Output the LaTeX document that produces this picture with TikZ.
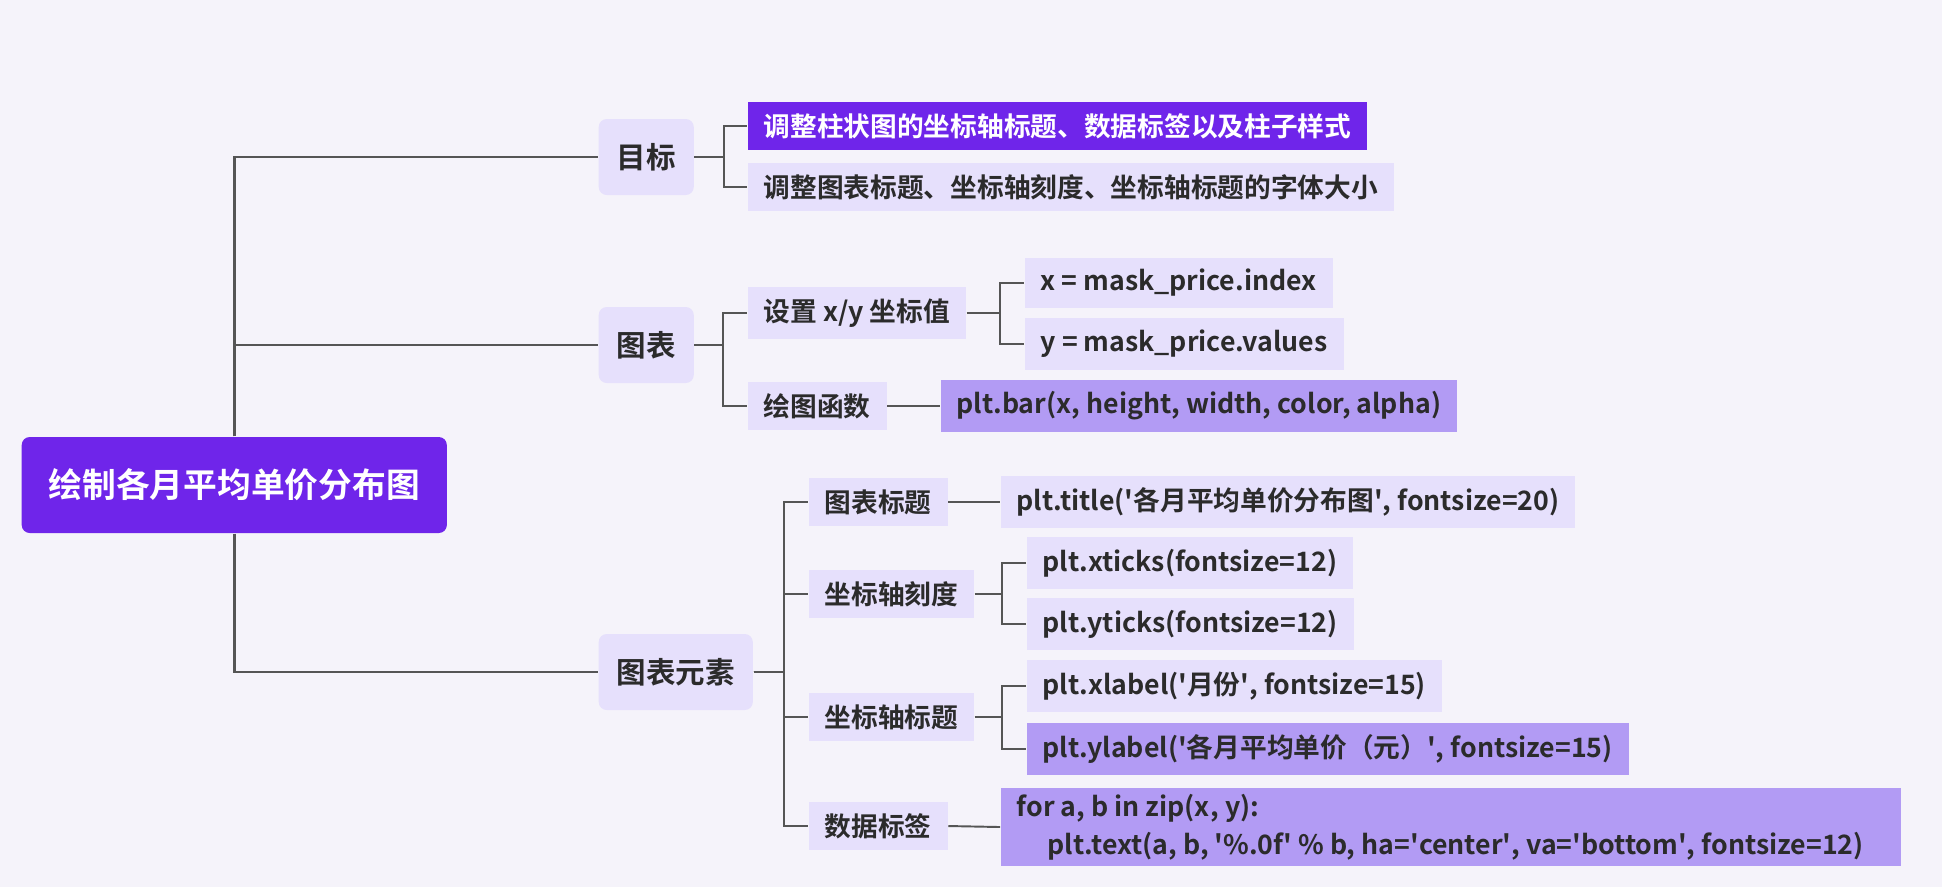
\documentclass[tikz,border=0pt]{standalone}
\usepackage{fontspec}
\setmainfont{Noto Sans CJK SC}[BoldFont={Noto Sans CJK SC Bold}]
\usepackage{xcolor}
\usetikzlibrary{positioning, calc}

\definecolor{bgcol}{HTML}{F5F3FA}
\definecolor{rootcol}{HTML}{6F25EA}
\definecolor{softcol}{HTML}{E6E0FC}
\definecolor{midcol}{HTML}{B29BF4}
\definecolor{linecol}{HTML}{555555}
\definecolor{txtcol}{HTML}{2B2B2B}
\newcommand{\sq}{\textquotesingle}

\begin{document}
\begin{tikzpicture}[x=0.1mm, y=-0.1mm,
    rootbox/.style={fill=rootcol, text=white, rounded corners=0.8mm, anchor=west,
        minimum height=9.6mm, inner xsep=2.7mm, font=\bfseries\fontsize{9.6}{11}\selectfont},
    topic/.style={fill=softcol, text=txtcol, rounded corners=0.8mm, anchor=west,
        minimum height=7.6mm, inner xsep=1.8mm, font=\bfseries\fontsize{8.4}{10}\selectfont},
    leaf/.style={fill=softcol, text=txtcol, anchor=west,
        minimum height=4.6mm, inner xsep=1.6mm, font=\bfseries\fontsize{7.6}{10.8}\selectfont},
    hot/.style={leaf, fill=rootcol, text=white},
    code/.style={leaf, fill=midcol},
    trunk/.style={draw=linecol, line width=0.75pt},
    link/.style={draw=linecol, line width=0.55pt}]

    % Background
    \fill[bgcol] (0,0) rectangle (1942,887);

    % Root and main branches
    \node[rootbox] (root) at (21,485) {绘制各月平均单价分布图};
    \node[topic] (goal) at (598,157) {目标};
    \node[topic] (chart) at (598,345) {图表};
    \node[topic] (elems) at (598,672) {图表元素};

    \draw[trunk] (root.north) |- (goal.west);
    \draw[trunk] (root.north) |- (chart.west);
    \draw[trunk] (root.south) |- (elems.west);

    % Goal
    \node[hot] (adjbar) at (747,126) {调整柱状图的坐标轴标题、数据标签以及柱子样式};
    \node[leaf] (adjfont) at (747,187) {调整图表标题、坐标轴刻度、坐标轴标题的字体大小};
    \foreach \c in {adjbar, adjfont}
        \draw[link] (goal.east) -| ($(\c.west)+(-23,0)$) -- (\c.west);

    % Chart
    \node[leaf] (setxy) at (747,313) {设置 x/y 坐标值};
    \node[leaf] (plotfn) at (747,406) {绘图函数};
    \foreach \c in {setxy, plotfn}
        \draw[link] (chart.east) -| ($(\c.west)+(-24,0)$) -- (\c.west);

    \node[leaf] (xval) at (1024,283) {x = mask\_price.index};
    \node[leaf] (yval) at (1024,344) {y = mask\_price.values};
    \foreach \c in {xval, yval}
        \draw[link] (setxy.east) -| ($(\c.west)+(-24,0)$) -- (\c.west);

    \node[code] (barfn) at (940,406) {plt.bar(x, height, width, color, alpha)};
    \draw[link] (plotfn.east) -- (barfn.west);

    % Chart elements
    \node[leaf] (ctitle) at (808,502) {图表标题};
    \node[leaf] (cticks) at (808,594) {坐标轴刻度};
    \node[leaf] (clabels) at (808,717) {坐标轴标题};
    \node[leaf] (cdata) at (808,826) {数据标签};
    \foreach \c in {ctitle, cticks, clabels, cdata}
        \draw[link] (elems.east) -| ($(\c.west)+(-24,0)$) -- (\c.west);

    \node[leaf] (titlefn) at (1000,502) {plt.title(\sq{}各月平均单价分布图\sq{}, fontsize=20)};
    \draw[link] (ctitle.east) -- (titlefn.west);

    \node[leaf] (xtfn) at (1026,563) {plt.xticks(fontsize=12)};
    \node[leaf] (ytfn) at (1026,624) {plt.yticks(fontsize=12)};
    \foreach \c in {xtfn, ytfn}
        \draw[link] (cticks.east) -| ($(\c.west)+(-24,0)$) -- (\c.west);

    \node[leaf] (xlfn) at (1026,686) {plt.xlabel(\sq{}月份\sq{}, fontsize=15)};
    \node[code] (ylfn) at (1026,749) {plt.ylabel(\sq{}各月平均单价（元）\sq{}, fontsize=15)};
    \foreach \c in {xlfn, ylfn}
        \draw[link] (clabels.east) -| ($(\c.west)+(-24,0)$) -- (\c.west);

    \node[code, align=flush left, text width=86.8mm, inner ysep=0.6mm] (loopfn) at (1000,827)
        {for a, b in zip(x, y):\\
         \hspace*{3.1mm}plt.text(a, b, \sq{}\%.0f\sq{} \% b, ha=\sq{}center\sq{}, va=\sq{}bottom\sq{}, fontsize=12)};
    \draw[link] (cdata.east) -- (loopfn.west);
\end{tikzpicture}
\end{document}
